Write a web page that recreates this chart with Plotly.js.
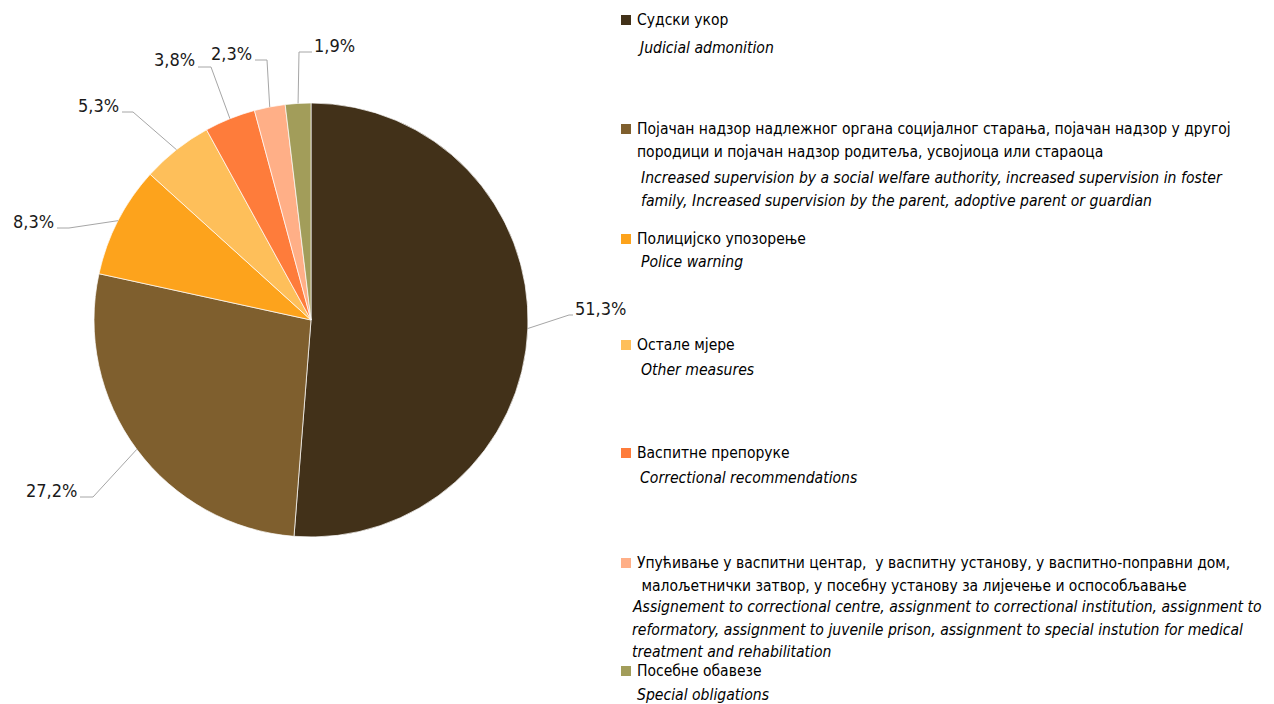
<!DOCTYPE html>
<html>
<head>
<meta charset="utf-8">
<script src="https://cdn.plot.ly/plotly-3.0.1.min.js"></script>
<style>
  html, body { margin: 0; padding: 0; background: #fff; }
  #chart { width: 1274px; height: 704px; }
</style>
</head>
<body>
<div id="chart"></div>
<script>
// data
const namesSr = [
  "Судски укор",
  "Појачан надзор надлежног органа социјалног старања, појачан надзор у другој<br>породици и појачан надзор родитеља, усвојиоца или стараоца",
  "Полицијско упозорење",
  "Остале мјере",
  "Васпитне препоруке",
  "Упућивање у васпитни центар,  у васпитну установу, у васпитно-поправни дом,<br> малољетнички затвор, у посебну установу за лијечење и оспособљавање",
  "Посебне обавезе"
];
const namesEn = [
  "Judicial admonition",
  "Increased supervision by a social welfare authority, increased supervision in foster<br>family, Increased supervision by the parent, adoptive parent or guardian",
  "Police warning",
  "Other measures",
  "Correctional recommendations",
  "Assignement to correctional centre, assignment to correctional institution, assignment to<br>reformatory, assignment to juvenile prison, assignment to special instution for medical<br>treatment and rehabilitation",
  "Special obligations"
];
const shares = [51.3, 27.2, 8.3, 5.3, 3.8, 2.3, 1.9];
const shareLabels = ["51,3%", "27,2%", "8,3%", "5,3%", "3,8%", "2,3%", "1,9%"];
const colors = ["#423119", "#7F5F2E", "#FDA31C", "#FEBF5A", "#FE7C3B", "#FFAF87", "#A29D5A"];

// layout helpers (pixels -> paper)
const W = 1274, H = 704;
const px = x => x / W;
const py = y => 1 - y / H;

const pieCx = 311, pieCy = 320, pieR = 217;

// where the leader elbows and line ends sit (pixels)
const leaderElbow = [[569, 315], [93, 497], [69, 228], [133, 112], [211, 67], [267, 60], [299, 52]];
const leaderEnd = [[573, 315], [80, 497], [57, 228], [122, 112], [198, 67], [255, 60], [312, 52]];

// legend placement (pixels)
const legX = 621, legTextX = 635;
const legSrY = [20, 129, 239, 345, 453, 563, 671];
const legEnY = [48, 178, 262, 370, 478, 607, 695];
const legEnX = [635, 639, 639, 639, 638, 630, 635];
const lineStep = 22.5;

const FONT = "'DejaVu Sans Condensed', 'Liberation Sans Narrow', sans-serif";

const total = shares.reduce((a, b) => a + b, 0);
const shapes = [];
const annotations = [];

// leader lines + percentage labels
let cum = 0;
shares.forEach((v, i) => {
  const mid = (cum + v / 2) / total * 2 * Math.PI;
  cum += v;
  const ex = pieCx + pieR * Math.sin(mid);
  const ey = pieCy - pieR * Math.cos(mid);
  const [bx, by] = leaderElbow[i];
  const [tx, ty] = leaderEnd[i];
  shapes.push({
    type: "path", xref: "paper", yref: "paper",
    path: `M ${px(ex)},${py(ey)} L ${px(bx)},${py(by)} L ${px(tx)},${py(ty)}`,
    line: { color: "#A6A6A6", width: 1 }
  });
  const right = tx > bx;
  annotations.push({
    xref: "paper", yref: "paper",
    x: px(tx + (right ? 0 : -1)), y: py(ty - 7),
    xanchor: right ? "left" : "right", yanchor: "middle",
    text: shareLabels[i], showarrow: false,
    font: { family: FONT, size: 18, color: "#1a1a1a" }
  });
});

// custom legend
namesSr.forEach((name, i) => {
  shapes.push({
    type: "rect", xref: "paper", yref: "paper",
    x0: px(legX), x1: px(legX + 10),
    y0: py(legSrY[i] - 5), y1: py(legSrY[i] + 5),
    fillcolor: colors[i], line: { width: 0 }
  });
  name.split("<br>").forEach((ln, j) => {
    annotations.push({
      xref: "paper", yref: "paper",
      x: px(legTextX), y: py(legSrY[i] + j * lineStep),
      xanchor: "left", yanchor: "middle",
      text: ln, showarrow: false,
      font: { family: FONT, size: 15.5, color: "#000" }
    });
  });
  namesEn[i].split("<br>").forEach((ln, j) => {
    annotations.push({
      xref: "paper", yref: "paper",
      x: px(legEnX[i]), y: py(legEnY[i] + j * lineStep),
      xanchor: "left", yanchor: "middle",
      text: "<i>" + ln + "</i>", showarrow: false,
      font: { family: FONT, size: 15.6, color: "#000" }
    });
  });
});

Plotly.newPlot("chart", [{
  type: "pie",
  values: shares,
  labels: namesSr,
  sort: false,
  direction: "clockwise",
  rotation: 0,
  textinfo: "none",
  hoverinfo: "label+percent",
  marker: { colors: colors, line: { color: "#ffffff", width: 0.7 } },
  domain: { x: [px(pieCx - pieR), px(pieCx + pieR)], y: [py(pieCy + pieR), py(pieCy - pieR)] }
}], {
  width: W, height: H,
  margin: { l: 0, r: 0, t: 0, b: 0 },
  paper_bgcolor: "#fff",
  showlegend: false,
  shapes: shapes,
  annotations: annotations
}, { displayModeBar: false, staticPlot: true });
</script>
</body>
</html>
